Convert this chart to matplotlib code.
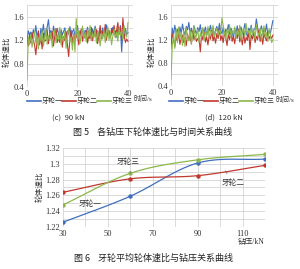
import numpy as np
import matplotlib
matplotlib.use("Agg")
import matplotlib.pyplot as plt
from matplotlib.lines import Line2D

plt.rcParams['font.family'] = ['Liberation Serif', 'Noto Sans CJK SC']

# ---- data: fig 5, wheel speed ratio vs time (0.5 s step) ----
t = [i * 0.5 for i in range(81)]

l_blue = [1.18, 1.36, 1.29, 1.34, 1.22, 1.38, 1.30, 1.45, 1.24, 1.33,
          1.20, 1.40, 1.31, 1.47, 1.26, 1.35, 1.42, 1.55, 1.30, 1.37,
          1.22, 1.44, 1.33, 1.27, 1.40, 1.31, 1.24, 1.38, 1.29, 1.35,
          1.41, 1.26, 1.36, 1.30, 1.43, 1.25, 1.34, 1.39, 1.28, 1.32,
          1.45, 1.27, 1.36, 1.31, 1.40, 1.24, 1.37, 1.33, 1.42, 1.29,
          1.35, 1.26, 1.39, 1.31, 1.44, 1.28, 1.36, 1.22, 1.38, 1.30,
          1.41, 1.27, 1.35, 1.46, 1.29, 1.37, 1.24, 1.33, 1.42, 1.30,
          1.36, 1.25, 1.40, 1.31, 1.45, 1.00, 1.34, 1.23, 1.40, 1.30,
          1.33]
l_red = [1.22, 1.10, 1.28, 1.15, 1.33, 1.20, 1.12, 0.95, 1.18, 1.36,
         1.12, 1.25, 1.05, 1.32, 1.18, 1.20, 1.38, 1.14, 1.29, 1.22,
         1.35, 1.10, 1.27, 1.40, 1.16, 1.24, 1.16, 1.31, 1.08, 1.26,
         1.19, 1.34, 1.13, 0.92, 1.22, 1.37, 1.15, 1.30, 1.20, 1.25,
         1.33, 1.12, 1.28, 1.39, 1.18, 1.31, 1.24, 1.36, 1.15, 1.29,
         1.22, 1.42, 1.19, 1.33, 1.26, 1.38, 1.14, 1.31, 1.45, 1.22,
         1.35, 1.28, 1.47, 1.20, 1.38, 1.30, 1.25, 1.40, 1.32, 1.45,
         1.26, 1.37, 1.50, 1.30, 1.42, 1.20, 1.58, 1.28, 1.16, 1.22,
         1.18]
l_green = [0.52, 1.25, 1.12, 1.30, 1.08, 1.22, 1.35, 1.15, 1.28, 1.05,
           1.30, 1.18, 1.36, 1.10, 1.24, 1.40, 1.13, 1.27, 1.20, 1.33,
           1.08, 1.26, 1.38, 1.15, 1.30, 1.21, 1.42, 1.12, 1.28, 1.18,
           1.35, 1.06, 1.29, 1.40, 1.17, 1.25, 1.03, 1.32, 1.00, 1.57,
           1.20, 1.36, 1.14, 1.29, 1.44, 1.22, 1.33, 1.17, 1.38, 1.26,
           1.45, 1.19, 1.31, 1.24, 1.40, 1.15, 1.35, 1.28, 1.10, 1.32,
           1.22, 1.37, 1.16, 1.30, 1.43, 1.20, 1.34, 1.12, 1.27, 1.39,
           1.24, 1.33, 1.18, 1.41, 1.28, 1.36, 1.21, 1.44, 1.30, 1.25,
           1.50]

r_blue = [1.05, 1.40, 1.28, 1.45, 1.32, 1.38, 1.25, 1.42, 1.30, 1.47,
          1.35, 1.28, 1.43, 1.37, 1.50, 1.31, 1.40, 1.26, 1.44, 1.36,
          1.29, 1.41, 1.34, 1.46, 1.30, 1.38, 1.33, 1.42, 1.27, 1.39,
          1.35, 1.45, 1.31, 1.40, 1.24, 1.37, 1.43, 1.32, 1.48, 1.36,
          1.30, 1.41, 1.27, 1.38, 1.34, 1.46, 1.29, 1.40, 1.35, 1.22,
          1.39, 1.31, 1.44, 1.27, 1.37, 1.42, 1.30, 1.36, 1.48, 1.33,
          1.25, 1.40, 1.35, 1.45, 1.29, 1.38, 1.38, 1.56, 1.41, 1.27,
          1.37, 1.44, 1.30, 1.39, 1.33, 1.47, 1.28, 1.36, 1.31, 1.42,
          1.53]
r_red = [1.15, 1.30, 1.20, 1.08, 1.25, 1.18, 1.32, 1.12, 1.22, 1.28,
         1.15, 1.24, 1.10, 1.30, 1.19, 1.26, 1.13, 1.35, 1.20, 1.27,
         1.17, 1.22, 1.23, 0.99, 1.29, 1.20, 1.33, 1.16, 1.25, 1.11,
         1.28, 1.21, 1.36, 1.18, 1.26, 1.14, 1.31, 1.22, 1.40, 1.19,
         1.27, 1.15, 1.33, 1.23, 1.10, 1.29, 1.20, 1.35, 1.17, 1.26,
         1.13, 1.30, 1.22, 1.38, 1.16, 1.25, 1.11, 1.32, 1.14, 1.24,
         1.19, 1.35, 1.03, 1.28, 1.21, 1.33, 1.15, 1.26, 1.20, 1.37,
         1.17, 1.29, 1.12, 1.31, 1.23, 1.18, 1.34, 1.21, 1.27, 1.22,
         1.28]
r_green = [0.52, 1.10, 1.30, 1.05, 1.38, 1.15, 1.42, 1.22, 1.33, 1.10,
           1.35, 1.08, 1.40, 1.25, 1.18, 1.36, 1.12, 1.30, 1.44, 1.20,
           1.28, 1.38, 1.15, 1.32, 1.24, 1.41, 1.19, 1.35, 1.27, 1.43,
           1.22, 1.36, 1.30, 1.45, 1.25, 1.33, 1.40, 1.28, 1.37, 1.30,
           1.58, 1.44, 1.31, 1.20, 1.38, 1.29, 1.46, 1.24, 1.35, 1.30,
           1.42, 1.22, 1.37, 1.28, 1.45, 1.19, 1.34, 1.40, 1.26, 1.48,
           1.30, 1.36, 1.23, 1.42, 1.29, 1.38, 1.21, 1.46, 1.33, 1.27,
           1.40, 1.18, 1.35, 1.44, 1.25, 1.32, 1.17, 1.39, 1.28, 1.15,
           1.20]

series_names = ['牙轮一', '牙轮二', '牙轮三']

# ---- data: fig 6, mean speed ratio vs WOB ----
wob = [30, 60, 90, 120]
avg_blue = [1.226, 1.259, 1.301, 1.306]
avg_red = [1.264, 1.281, 1.285, 1.298]
avg_green = [1.248, 1.288, 1.305, 1.312]

c_blue = '#3f6fbf'
c_red = '#c0392f'
c_green = '#8cb84c'
grid_c = '#d4d4d4'
txt_c = '#333333'

W, H = 300, 269
fig = plt.figure(figsize=(W / 100, H / 100), dpi=100)


def box(l, t, r, b):
    # pixel box -> figure fraction
    return [l / W, 1 - b / H, (r - l) / W, (b - t) / H]


def px(x, y):
    return x / W, 1 - y / H


def style(ax):
    for s in ax.spines.values():
        s.set_visible(False)
    ax.tick_params(length=0, labelsize=6, colors=txt_c, pad=2)
    ax.grid(True, which='both', color=grid_c, lw=0.6)
    ax.set_axisbelow(True)


def time_panel(rect, blue, red, green, x0, ylab_x):
    ax = fig.add_axes(box(*rect))
    style(ax)
    ax.plot(t, blue, color=c_blue, lw=0.8)
    ax.plot(t, red, color=c_red, lw=0.8)
    ax.plot(t, green, color=c_green, lw=0.8)
    ax.set_xlim(0, 42)
    ax.set_ylim(0.4, 1.8)
    ax.set_xticks([0, 20, 40])
    ax.set_yticks([0.4, 0.8, 1.2, 1.6])
    ax.set_yticks(np.arange(0.4, 1.81, 0.2), minor=True)
    ax.tick_params(which='minor', length=0)
    ax.grid(False, axis='x', which='minor')
    # legend row
    cols = [c_blue, c_red, c_green]
    offs = [0, 35, 70]
    for c, o, name in zip(cols, offs, series_names):
        fx0, fy = px(x0 + o, 101)
        fx1, _ = px(x0 + o + 14, 101)
        fig.add_artist(Line2D([fx0, fx1], [fy, fy], color=c, lw=1.2,
                              transform=fig.transFigure))
        fig.text(fx1 + 1 / W, fy, name, fontsize=5, color=txt_c,
                 ha='left', va='center')
    fig.text(*px(ylab_x, 52), '轮体速比', rotation=90, fontsize=5.5,
             color=txt_c, ha='center', va='center')
    return ax


time_panel((27, 5, 133, 87), l_blue, l_red, l_green, 27, 7)
fig.text(*px(134, 98), '时间/s', fontsize=5, color=txt_c,
         ha='left', va='center')
time_panel((171, 5, 278, 86), r_blue, r_red, r_green, 169, 152)
fig.text(*px(276, 99), '时间/s', fontsize=5, color=txt_c,
         ha='left', va='center')

fig.text(*px(68, 118), '(c)  90 kN', fontsize=5.5, color=txt_c,
         family=['Noto Sans CJK SC'], ha='center', va='center')
fig.text(*px(224, 118), '(d)  120 kN', fontsize=5.5, color=txt_c,
         family=['Noto Sans CJK SC'], ha='center', va='center')
fig.text(*px(153, 132), '图 5    各钻压下轮体速比与时间关系曲线', fontsize=6.5,
         color='#222222', family=['Noto Sans CJK SC'], ha='center', va='center')


# ---- bottom chart ----
def smooth(xs, ys, n=30):
    # Catmull-Rom curve through the points (smoothed line like the original)
    xs = np.asarray(xs, float)
    ys = np.asarray(ys, float)
    P = np.column_stack([xs, ys])
    P = np.vstack([2 * P[0] - P[1], P, 2 * P[-1] - P[-2]])
    out = []
    for i in range(1, len(P) - 2):
        p0, p1, p2, p3 = P[i - 1], P[i], P[i + 1], P[i + 2]
        s = np.linspace(0, 1, n)[:, None]
        seg = 0.5 * ((2 * p1) + (-p0 + p2) * s +
                     (2 * p0 - 5 * p1 + 4 * p2 - p3) * s ** 2 +
                     (-p0 + 3 * p1 - 3 * p2 + p3) * s ** 3)
        out.append(seg)
    out = np.vstack(out)
    return out[:, 0], out[:, 1]


ax = fig.add_axes(box(63, 148, 265, 227))
style(ax)
for ys, c in [(avg_blue, c_blue), (avg_red, c_red), (avg_green, c_green)]:
    sx, sy = smooth(wob, ys)
    ax.plot(sx, sy, color=c, lw=0.9)
    ax.plot(wob, ys, 'o', color=c, ms=2.2)
ax.set_xlim(30, 120)
ax.set_ylim(1.22, 1.32)
ax.set_xticks([30, 50, 70, 90, 110])
ax.set_xticks(np.arange(30, 121, 10), minor=True)
ax.set_yticks(np.arange(1.22, 1.3201, 0.02))
ax.set_yticks(np.arange(1.22, 1.3201, 0.01), minor=True)
ax.set_yticklabels(['1.22', '1.24', '1.26', '1.28', '1.3', '1.32'])
ax.tick_params(which='minor', length=0)

ann = dict(fontsize=5.5, color=txt_c, ha='center', va='center',
           arrowprops=dict(arrowstyle='-', color='#555555', lw=0.4,
                           shrinkA=2, shrinkB=0))
ax.annotate('牙轮三', xy=(60, 1.288), xytext=(59, 1.302), **ann)
ax.annotate('牙轮一', xy=(44.7, 1.240), xytext=(42, 1.249), **ann)
ax.annotate('牙轮二', xy=(102.2, 1.291), xytext=(106, 1.2757), **ann)

fig.text(*px(40, 187), '轮体速比', rotation=90, fontsize=5.5, color=txt_c,
         ha='center', va='center')
fig.text(*px(251, 242), '钻压/kN', fontsize=5.5, color=txt_c,
         ha='center', va='center')
fig.text(*px(153, 258), '图 6    牙轮平均轮体速比与钻压关系曲线', fontsize=6.5,
         color='#222222', family=['Noto Sans CJK SC'], ha='center', va='center')

fig.savefig('out.png', dpi=100)
